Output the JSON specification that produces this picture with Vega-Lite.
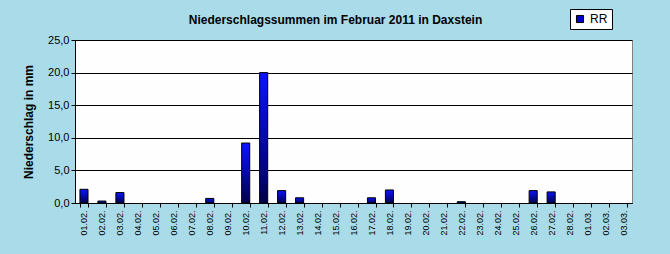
{
  "$schema": "https://vega.github.io/schema/vega-lite/v6.json",
  "width": 557,
  "height": 163,
  "autosize": {"type": "none"},
  "padding": {"left": 75, "top": 40, "right": 38, "bottom": 51},
  "background": "#a9dce8",
  "config": {
    "locale": {"number": {"decimal": ",", "thousands": ".", "grouping": [3], "currency": ["", " €"]}},
    "view": {"fill": "#fefefe", "stroke": "#808080", "strokeWidth": 1},
    "font": "Liberation Sans"
  },
  "title": {
    "text": "Niederschlagssummen im Februar 2011 in Daxstein",
    "fontSize": 12,
    "fontWeight": "bold",
    "font": "Liberation Sans",
    "color": "#000000",
    "anchor": "middle",
    "dx": -18,
    "offset": -18
  },
  "data": {
    "values": [
      {"tag": "01.02.", "rr": 2.1, "serie": "RR"},
      {"tag": "02.02.", "rr": 0.3, "serie": "RR"},
      {"tag": "03.02.", "rr": 1.6, "serie": "RR"},
      {"tag": "04.02.", "rr": 0, "serie": "RR"},
      {"tag": "05.02.", "rr": 0, "serie": "RR"},
      {"tag": "06.02.", "rr": 0, "serie": "RR"},
      {"tag": "07.02.", "rr": 0, "serie": "RR"},
      {"tag": "08.02.", "rr": 0.7, "serie": "RR"},
      {"tag": "09.02.", "rr": 0, "serie": "RR"},
      {"tag": "10.02.", "rr": 9.2, "serie": "RR"},
      {"tag": "11.02.", "rr": 20.0, "serie": "RR"},
      {"tag": "12.02.", "rr": 1.9, "serie": "RR"},
      {"tag": "13.02.", "rr": 0.8, "serie": "RR"},
      {"tag": "14.02.", "rr": 0, "serie": "RR"},
      {"tag": "15.02.", "rr": 0, "serie": "RR"},
      {"tag": "16.02.", "rr": 0, "serie": "RR"},
      {"tag": "17.02.", "rr": 0.8, "serie": "RR"},
      {"tag": "18.02.", "rr": 2.0, "serie": "RR"},
      {"tag": "19.02.", "rr": 0, "serie": "RR"},
      {"tag": "20.02.", "rr": 0, "serie": "RR"},
      {"tag": "21.02.", "rr": 0, "serie": "RR"},
      {"tag": "22.02.", "rr": 0.2, "serie": "RR"},
      {"tag": "23.02.", "rr": 0, "serie": "RR"},
      {"tag": "24.02.", "rr": 0, "serie": "RR"},
      {"tag": "25.02.", "rr": 0, "serie": "RR"},
      {"tag": "26.02.", "rr": 1.9, "serie": "RR"},
      {"tag": "27.02.", "rr": 1.7, "serie": "RR"},
      {"tag": "28.02.", "rr": 0, "serie": "RR"},
      {"tag": "01.03.", "rr": 0, "serie": "RR"},
      {"tag": "02.03.", "rr": 0, "serie": "RR"},
      {"tag": "03.03.", "rr": 0, "serie": "RR"}
    ]
  },
  "encoding": {
    "x": {
      "field": "tag",
      "type": "ordinal",
      "sort": null,
      "scale": {
        "domain": ["01.02.", "02.02.", "03.02.", "04.02.", "05.02.", "06.02.", "07.02.", "08.02.", "09.02.", "10.02.", "11.02.", "12.02.", "13.02.", "14.02.", "15.02.", "16.02.", "17.02.", "18.02.", "19.02.", "20.02.", "21.02.", "22.02.", "23.02.", "24.02.", "25.02.", "26.02.", "27.02.", "28.02.", "01.03.", "02.03.", "03.03."],
        "paddingInner": 0.55,
        "paddingOuter": 0.275
      },
      "axis": {
        "title": null,
        "labelAngle": -90,
        "labelFontSize": 9,
        "labelColor": "#000000",
        "labelFont": "Liberation Sans",
        "labelPadding": 3,
        "tickBand": "extent",
        "tickColor": "#000000",
        "tickSize": 4,
        "domainColor": "#000000",
        "labelAlign": "right",
        "labelBaseline": "middle"
      }
    },
    "y": {
      "field": "rr",
      "type": "quantitative",
      "scale": {"domain": [0, 25], "nice": false},
      "axis": {
        "title": "Niederschlag in mm",
        "titleFontSize": 12,
        "titleFontWeight": "bold",
        "titleColor": "#000000",
        "titleFont": "Liberation Sans",
        "titlePadding": 12,
        "values": [0, 5, 10, 15, 20, 25],
        "format": ".1f",
        "labelFontSize": 11,
        "labelColor": "#000000",
        "labelFont": "Liberation Sans",
        "tickColor": "#000000",
        "tickSize": 4,
        "domainColor": "#000000",
        "grid": true,
        "gridColor": "#000000",
        "gridWidth": 1
      }
    }
  },
  "layer": [
    {
      "transform": [{"filter": "datum.rr > 0"}],
      "mark": {
        "type": "bar",
        "stroke": "#000000",
        "strokeWidth": 1,
        "fill": {
          "gradient": "linear",
          "x1": 0, "y1": 0, "x2": 0, "y2": 1,
          "stops": [
            {"offset": 0, "color": "#0a14ff"},
            {"offset": 1, "color": "#000050"}
          ]
        }
      }
    },
    {
      "mark": {"type": "point", "opacity": 0, "shape": "square", "filled": true},
      "encoding": {
        "color": {
          "field": "serie",
          "type": "nominal",
          "scale": {"range": ["#0000c8"]},
          "legend": {
            "title": null,
            "orient": "none",
            "legendX": 495,
            "legendY": -31,
            "fillColor": "#ffffff",
            "strokeColor": "#000000",
            "padding": 4,
            "symbolType": "square",
            "symbolSize": 50,
            "symbolOpacity": 1,
            "symbolFillColor": "#0000c8",
            "symbolStrokeColor": "#000000",
            "symbolStrokeWidth": 1,
            "labelFontSize": 12,
            "labelColor": "#000000",
            "labelFont": "Liberation Sans"
          }
        }
      }
    }
  ]
}
